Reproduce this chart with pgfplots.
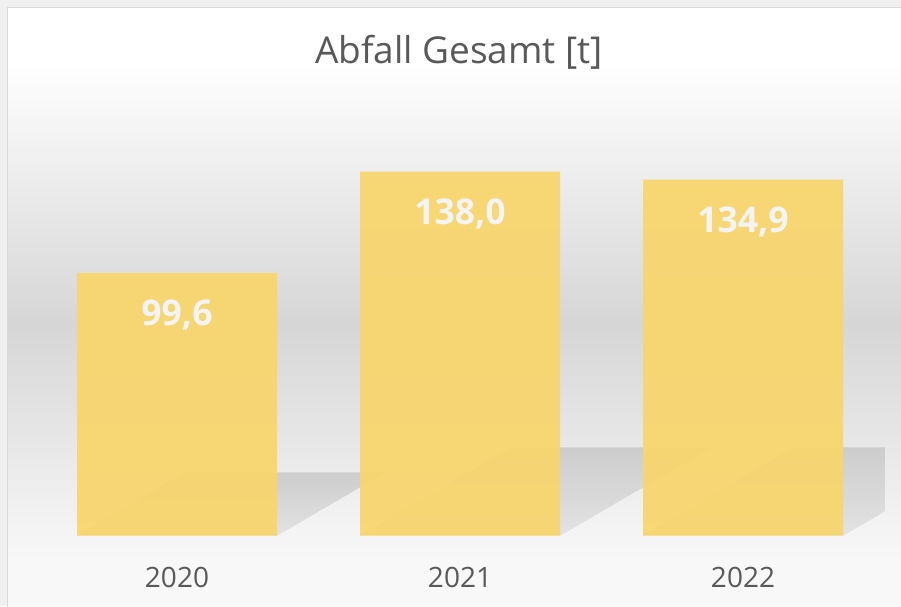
\documentclass[border=0pt]{standalone}
\usepackage{pgfplots}
\pgfplotsset{compat=1.18}
\usepackage{fontspec}
\setmainfont{Open Sans}
\definecolor{outer}{HTML}{F0F0F0}
\definecolor{frame}{HTML}{D9D9D9}
\definecolor{bar}{HTML}{F8D66C}
\definecolor{txt}{HTML}{595959}
\definecolor{shadowtop}{HTML}{C8C8C8}
\definecolor{shadowbot}{HTML}{E0E0E0}
\definecolor{bgmid}{HTML}{D6D6D6}
\definecolor{bgbot}{HTML}{F8F8F8}
\definecolor{lbl}{HTML}{F4F4F4}
\begin{document}
\begin{tikzpicture}
\path[use as bounding box] (0pt,0pt) rectangle (901pt,606pt);
\fill[outer] (0pt,0pt) rectangle (901pt,606pt);
\begin{scope}
\clip (0pt,0pt) rectangle (901pt,606pt);
\fill[white] (7.5pt,-10pt) rectangle (920pt,598.5pt);
\shade[top color=white, bottom color=bgmid] (8pt,546pt) rectangle (920pt,283pt);
\shade[top color=bgmid, bottom color=bgbot] (8pt,283.2pt) rectangle (920pt,46pt);
\fill[bgbot] (8pt,46.2pt) rectangle (920pt,-10pt);
\draw[frame, line width=1.5pt] (7.5pt,-10pt) rectangle (920pt,598.5pt);
\end{scope}
\node[anchor=base, font=\fontsize{37}{41}\selectfont, text=txt] at (459pt,542pt) {Abfall Gesamt [t]};
\begin{axis}[
  at={(35.5pt,70.5pt)}, anchor=south west,
  scale only axis, width=849pt, height=422pt,
  xmin=-0.5, xmax=2.5, ymin=0, ymax=160,
  axis line style={draw=none}, tick style={draw=none},
  xtick={0,1,2}, xticklabels={2020,2021,2022},
  ytick=\empty,
  xticklabel style={font=\fontsize{28}{32}\selectfont, text=txt, anchor=base, yshift=-52pt},
  /pgf/number format/assume math mode=true,
]
\addplot[draw=none, top color=shadowtop, bottom color=shadowbot, fill opacity=0.85] coordinates {(-0.355,0) (0.355,0) (0.737,23.9) (0.027,23.9)} -- cycle;
\addplot[draw=none, top color=shadowtop, bottom color=shadowbot, fill opacity=0.85] coordinates {(0.645,0) (1.355,0) (1.889,33.4) (1.179,33.4)} -- cycle;
\addplot[draw=none, top color=shadowtop, bottom color=shadowbot, fill opacity=0.85] coordinates {(1.645,0) (2.355,0) (2.889,33.4) (2.179,33.4)} -- cycle;
\addplot[ybar, bar width=200pt, fill=bar, draw=none, fill opacity=0.93,
  point meta=explicit symbolic,
  nodes near coords,
  nodes near coords style={anchor=base, yshift=-53pt, text=lbl, text opacity=1, font=\bfseries\fontsize{35.5}{40}\selectfont}]
  coordinates {(0,99.6)[99,6] (1,138.0)[138,0] (2,134.9)[134,9]};
\end{axis}
\end{tikzpicture}
\end{document}
